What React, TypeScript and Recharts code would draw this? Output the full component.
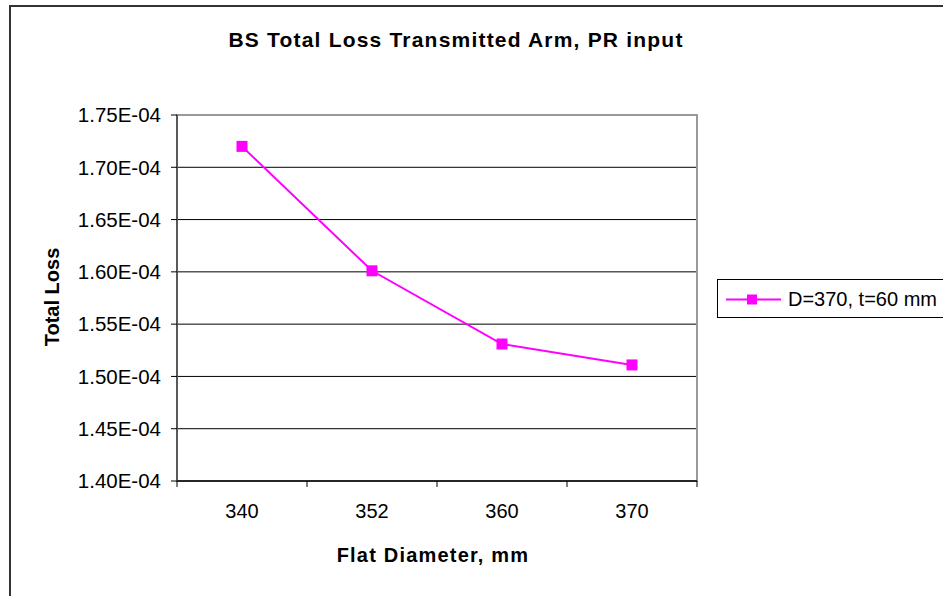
import { LineChart, Line, XAxis, YAxis, CartesianGrid, ReferenceArea } from "recharts";

const categories = ["340", "352", "360", "370"];
const lossValues = [1.72e-4, 1.601e-4, 1.531e-4, 1.511e-4];
const yTicks = [1.4e-4, 1.45e-4, 1.5e-4, 1.55e-4, 1.6e-4, 1.65e-4, 1.7e-4, 1.75e-4];
const seriesName = "D=370, t=60 mm";

const MAGENTA = "#FF00FF";
const FONT = "'Liberation Sans', Arial, sans-serif";

// categories sit between integer positions, like Excel's "between tick marks"
const data = categories.map((c, i) => ({ x: i + 0.5, label: c, loss: lossValues[i] }));
const xTicks: number[] = [];
for (let i = 0; i <= categories.length * 2; i++) xTicks.push(i / 2);

const fmtY = (v: number) => (v * 1e4).toFixed(2) + "E-04";

const XTick = (props: any) => {
  const { x, y, payload } = props;
  const v = payload.value;
  if (Number.isInteger(v)) {
    return <line x1={x} x2={x} y1={y} y2={y + 6} stroke="#000" strokeWidth={1} />;
  }
  const label = categories[Math.floor(v)];
  return (
    <text x={x} y={y + 37} textAnchor="middle" fontSize={20} fontFamily={FONT} fill="#000">
      {label}
    </text>
  );
};

const SquareDot = (props: any) => {
  const { cx, cy, index } = props;
  return <rect key={index} x={cx - 5.5} y={cy - 5.5} width={11} height={11} fill={MAGENTA} />;
};

export default function App() {
  return (
    <div
      style={{
        position: "absolute",
        left: 0,
        top: 0,
        width: 943,
        height: 596,
        overflow: "hidden",
        background: "#fff",
        fontFamily: FONT,
      }}
    >
      {/* outer chart frame, runs off the right/bottom edge */}
      <div
        style={{
          position: "absolute",
          left: 9,
          top: 5,
          width: 1100,
          height: 800,
          border: "2px solid #333",
        }}
      />

      <div
        style={{
          position: "absolute",
          left: 456,
          top: 40,
          transform: "translate(-50%, -50%)",
          fontSize: 21,
          fontWeight: "bold",
          letterSpacing: 1.2,
          whiteSpace: "nowrap",
        }}
      >
        BS Total Loss Transmitted Arm, PR input
      </div>

      <div
        style={{
          position: "absolute",
          left: 52,
          top: 297,
          transform: "translate(-50%, -50%) rotate(-90deg)",
          fontSize: 20,
          fontWeight: "bold",
          whiteSpace: "nowrap",
        }}
      >
        Total Loss
      </div>

      <div
        style={{
          position: "absolute",
          left: 433,
          top: 555,
          transform: "translate(-50%, -50%)",
          fontSize: 20,
          fontWeight: "bold",
          letterSpacing: 1.2,
          whiteSpace: "nowrap",
        }}
      >
        Flat Diameter, mm
      </div>

      <div style={{ position: "absolute", left: 0, top: 0 }}>
        <LineChart
          width={943}
          height={596}
          data={data}
          margin={{ top: 115, right: 246, bottom: 55, left: 77 }}
        >
          <CartesianGrid vertical={false} stroke="#000" strokeWidth={1} />
          <ReferenceArea
            x1={0}
            x2={categories.length}
            y1={yTicks[0]}
            y2={yTicks[yTicks.length - 1]}
            fill="none"
            stroke="#999"
            strokeWidth={2}
          />
          <XAxis
            type="number"
            dataKey="x"
            domain={[0, categories.length]}
            ticks={xTicks}
            interval={0}
            height={60}
            tickSize={0}
            tickMargin={0}
            tickLine={false}
            axisLine={{ stroke: "#000", strokeWidth: 1.5 }}
            tick={<XTick />}
          />
          <YAxis
            type="number"
            domain={[yTicks[0], yTicks[yTicks.length - 1]]}
            ticks={yTicks}
            interval={0}
            width={100}
            tickSize={6}
            tickMargin={10}
            tickFormatter={fmtY}
            axisLine={{ stroke: "#444", strokeWidth: 1.5 }}
            tickLine={{ stroke: "#000" }}
            tick={{ fontSize: 20.5, fontFamily: FONT, fill: "#000" }}
          />
          <Line
            type="linear"
            dataKey="loss"
            name={seriesName}
            stroke={MAGENTA}
            strokeWidth={2}
            dot={<SquareDot />}
            activeDot={false}
            isAnimationActive={false}
          />
        </LineChart>
      </div>

      {/* legend */}
      <div
        style={{
          position: "absolute",
          left: 717,
          top: 279,
          width: 250,
          height: 37,
          border: "1px solid #000",
          background: "#fff",
        }}
      >
        <svg width={70} height={37} style={{ position: "absolute", left: 0, top: 0 }}>
          <line x1={8} x2={63} y1={19.5} y2={19.5} stroke={MAGENTA} strokeWidth={2} />
          <rect x={29} y={14.5} width={10} height={10} fill={MAGENTA} />
        </svg>
        <div
          style={{
            position: "absolute",
            left: 70,
            top: 19,
            transform: "translateY(-50%)",
            fontSize: 20,
            whiteSpace: "nowrap",
          }}
        >
          {seriesName}
        </div>
      </div>
    </div>
  );
}
